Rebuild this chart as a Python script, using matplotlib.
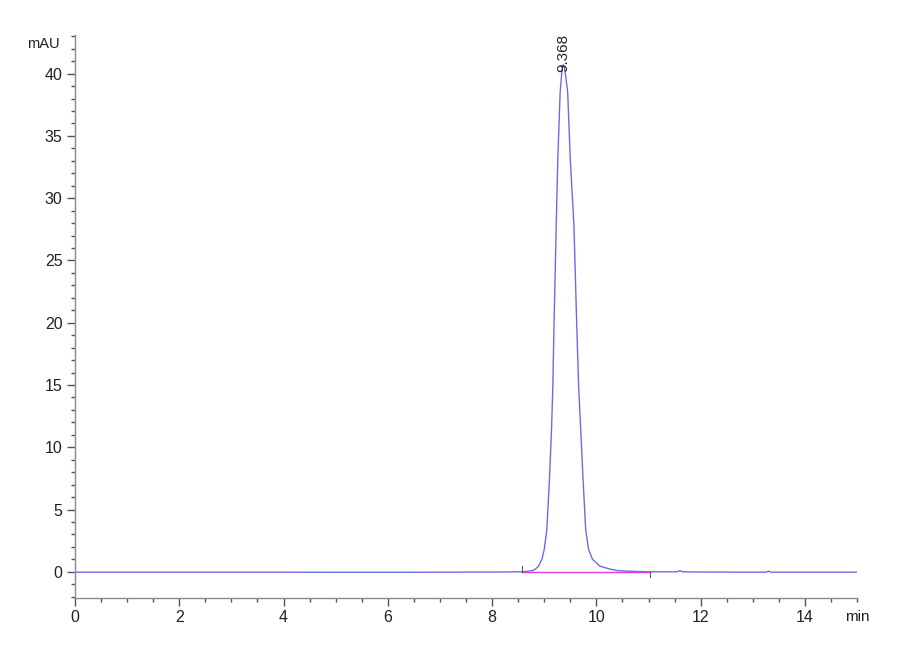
import matplotlib.pyplot as plt
from matplotlib.ticker import MultipleLocator

# chromatogram trace (min, mAU)
time = [0.0, 1.0, 2.0, 3.0, 4.0, 5.0, 6.0, 7.0, 8.0, 8.6, 8.78, 8.83, 8.89,
        8.955, 9.0, 9.05, 9.10, 9.14, 9.165, 9.19, 9.23, 9.26, 9.305, 9.335,
        9.35, 9.368, 9.385, 9.405, 9.45, 9.50, 9.57, 9.62, 9.66, 9.70, 9.745,
        9.795, 9.85, 9.925, 10.07, 10.26, 10.4, 10.6, 11.0, 11.55, 11.6, 11.65,
        12.0, 13.0, 13.25, 13.3, 13.35, 14.0, 15.0]
signal = [-0.03, -0.03, -0.03, -0.03, -0.03, -0.04, -0.04, -0.03, -0.02, 0.0,
          0.1, 0.22, 0.45, 1.0, 1.8, 3.4, 7.4, 11.4, 14.9, 20.3, 27.8, 33.1,
          38.5, 40.0, 40.5, 40.7, 40.55, 40.0, 38.5, 33.1, 27.8, 20.3, 14.9,
          11.4, 7.4, 3.4, 1.8, 1.0, 0.45, 0.22, 0.1, 0.05, 0.0, 0.0, 0.1, 0.0,
          -0.02, -0.03, -0.03, 0.05, -0.03, -0.03, -0.03]

# integration baseline
base_t = [8.57, 11.03]
base_y = [0.0, 0.0]

peak_rt = 9.368
peak_label = '9.368'

plt.rcParams['font.family'] = ['Liberation Sans', 'DejaVu Sans']

fig = plt.figure(figsize=(9, 6.6), dpi=100)
ax = fig.add_axes([0.0833, 0.094, 0.869, 0.853])

ax.plot(time, signal, color='#6b6be8', linewidth=1.0)
ax.plot(base_t, base_y, color='#e23ce2', linewidth=1.0)
# start / end marks of the integrated peak
ax.plot([base_t[0], base_t[0]], [0.0, 0.45], color='#555555', linewidth=0.8)
ax.plot([base_t[1], base_t[1]], [0.0, -0.45], color='#555555', linewidth=0.8)

ax.text(peak_rt, 40.1, peak_label, rotation=90, ha='center', va='bottom',
        fontsize=11, color='#222222')

ax.set_xlim(0, 15)
ax.set_ylim(-2.1, 43.1)
ax.xaxis.set_major_locator(MultipleLocator(2))
ax.xaxis.set_minor_locator(MultipleLocator(0.5))
ax.yaxis.set_major_locator(MultipleLocator(5))
ax.yaxis.set_minor_locator(MultipleLocator(1))

for s in ['top', 'right']:
    ax.spines[s].set_visible(False)
for s in ['left', 'bottom']:
    ax.spines[s].set_color('#8a8a8a')
    ax.spines[s].set_linewidth(1.0)

ax.tick_params(which='major', length=6, width=1, color='#555555',
               labelsize=11.5, labelcolor='#222222', pad=3)
ax.tick_params(which='minor', length=3, width=1, color='#555555')

ax.text(-0.3, 42.4, 'mAU', ha='right', va='center', fontsize=10.5, color='#222222')
ax.text(14.77, -3.6, 'min', ha='left', va='center', fontsize=11, color='#222222')

plt.savefig('out.png', dpi=100)
